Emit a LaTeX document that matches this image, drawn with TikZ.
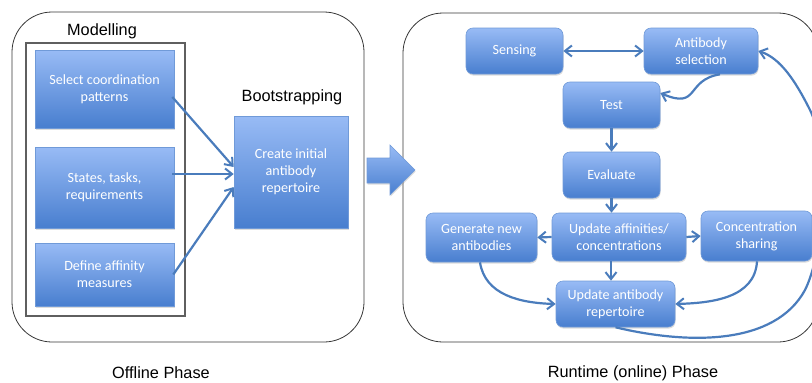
\documentclass[tikz,border=0pt]{standalone}
\usepackage{fontspec}
\setmainfont{Liberation Sans}
\newfontfamily\boxfont{Carlito}
\usetikzlibrary{arrows.meta,shadows,calc}

\definecolor{boxtop}{RGB}{152,187,245}
\definecolor{boxbot}{RGB}{72,126,207}
\definecolor{boxedge}{RGB}{112,154,216}
\definecolor{conncol}{RGB}{74,124,188}
\definecolor{framecol}{RGB}{55,55,55}

\tikzset{
  box/.style={draw=boxedge, line width=0.6pt, top color=boxtop, bottom color=boxbot,
    text=white, align=center, inner sep=2pt,
    font=\boxfont\fontsize{14.1}{16.8}\selectfont,
    drop shadow={shadow xshift=0.6pt, shadow yshift=-1.6pt, opacity=0.28}},
  obox/.style={box},
  rbox/.style={box, rounded corners=7pt},
  phase/.style={draw=framecol, line width=0.8pt, rounded corners=40pt},
  heading/.style={font=\fontsize{16.3}{19}\selectfont, text=black},
  conn/.style={draw=conncol, line width=2.2pt,
    -{Straight Barb[length=7pt,width=11pt,line width=2pt]}},
  bconn/.style={conn, {Straight Barb[length=7pt,width=11pt,line width=2pt]}-{Straight Barb[length=7pt,width=11pt,line width=2pt]}},
}

\begin{document}
\begin{tikzpicture}[x=1pt,y=-1pt]
\useasboundingbox (0,0) rectangle (812,383);
\clip (0,0) rectangle (812,383);

% phase frames
\draw[phase] (12,12) rectangle (364,342);
\draw[phase] (403,13) rectangle (818,342);

% offline phase
\draw[draw=framecol!80, line width=1.1pt] (26,43) rectangle (185,316);
\node[heading] (tmod) at (102,31) {Modelling};
\node[heading] (tboot) at (292,97) {Bootstrapping};

\node[obox, minimum width=139pt, minimum height=78pt] (b1) at (104.5,89) {Select coordination\\patterns};
\node[obox, minimum width=139pt, minimum height=81pt] (b2) at (104.5,187.5) {States, tasks,\\requirements};
\node[obox, minimum width=139pt, minimum height=63pt] (b3) at (104.5,274.5) {Define affinity\\measures};
\node[obox, minimum width=114pt, minimum height=112pt] (boot) at (291,172) {Create initial\\antibody\\repertoire};

\draw[conn] ([xshift=-2pt,yshift=-8pt]b1.east) -- ([yshift=5pt]boot.west);
\draw[conn] ([xshift=-2pt,yshift=13.5pt]b2.east) -- ([yshift=-2pt]boot.west);
\draw[conn] ([xshift=-1pt]b3.east) -- ([yshift=-15pt]boot.west);

\node[heading] (toff) at (161,373) {Offline Phase};

% transition arrow between the phases
\path[draw=boxedge, line width=0.6pt, top color=boxtop, bottom color=boxbot,
  drop shadow={shadow xshift=0.6pt, shadow yshift=-1.6pt, opacity=0.28}]
  (367,158) -- (390,158) -- (390,145) -- (415,170) -- (390,195) -- (390,183) -- (367,183) -- cycle;

% runtime phase
\node[rbox, minimum width=97pt, minimum height=46pt] (sens) at (514.5,51) {Sensing};
\node[rbox, minimum width=114pt, minimum height=46pt] (sel) at (701,51) {Antibody\\selection};
\node[rbox, minimum width=97pt, minimum height=46pt] (test) at (611.5,105) {Test};
\node[rbox, minimum width=97pt, minimum height=46pt] (eval) at (611.5,175) {Evaluate};
\node[rbox, minimum width=134pt, minimum height=48pt] (upd) at (619,237) {Update affinities/\\concentrations};
\node[rbox, minimum width=111pt, minimum height=49pt] (gen) at (481.5,237.5) {Generate new\\antibodies};
\node[rbox, minimum width=111pt, minimum height=50pt] (conc) at (756.5,236) {Concentration\\sharing};
\node[rbox, minimum width=119pt, minimum height=46pt] (rep) at (615.5,304) {Update antibody\\repertoire};

\draw[bconn] (sens.east) -- (sel.west);
\draw[conn] ([xshift=19pt]sel.south) .. controls (685,80) and (700,110) .. ([yshift=12pt]test.east);
\draw[conn] (test.south) -- (eval.north);
\draw[conn] (eval.south) -- (eval.south |- upd.north);
\draw[conn] (upd.west) -- (gen.east);
\draw[conn] (upd.east) -- (conc.east -| conc.west);
\draw[conn] ([xshift=-8pt]upd.south) -- ([xshift=-8pt]upd.south |- rep.north);
\draw[conn] ([xshift=-1.5pt]gen.south) .. controls (485,295) and (520,303) .. (rep.west);
\draw[conn] ([xshift=0.5pt]conc.south) .. controls (755,298) and (712,303) .. (rep.east);
\draw[conn] (rep.south) .. controls (690,345) and (775,345) .. (805,290)
  .. controls (825,250) and (830,150) .. (810,110)
  .. controls (795,80) and (780,58) .. (sel.east);

\node[heading] (trun) at (633,373) {Runtime (online) Phase};
\end{tikzpicture}
\end{document}
